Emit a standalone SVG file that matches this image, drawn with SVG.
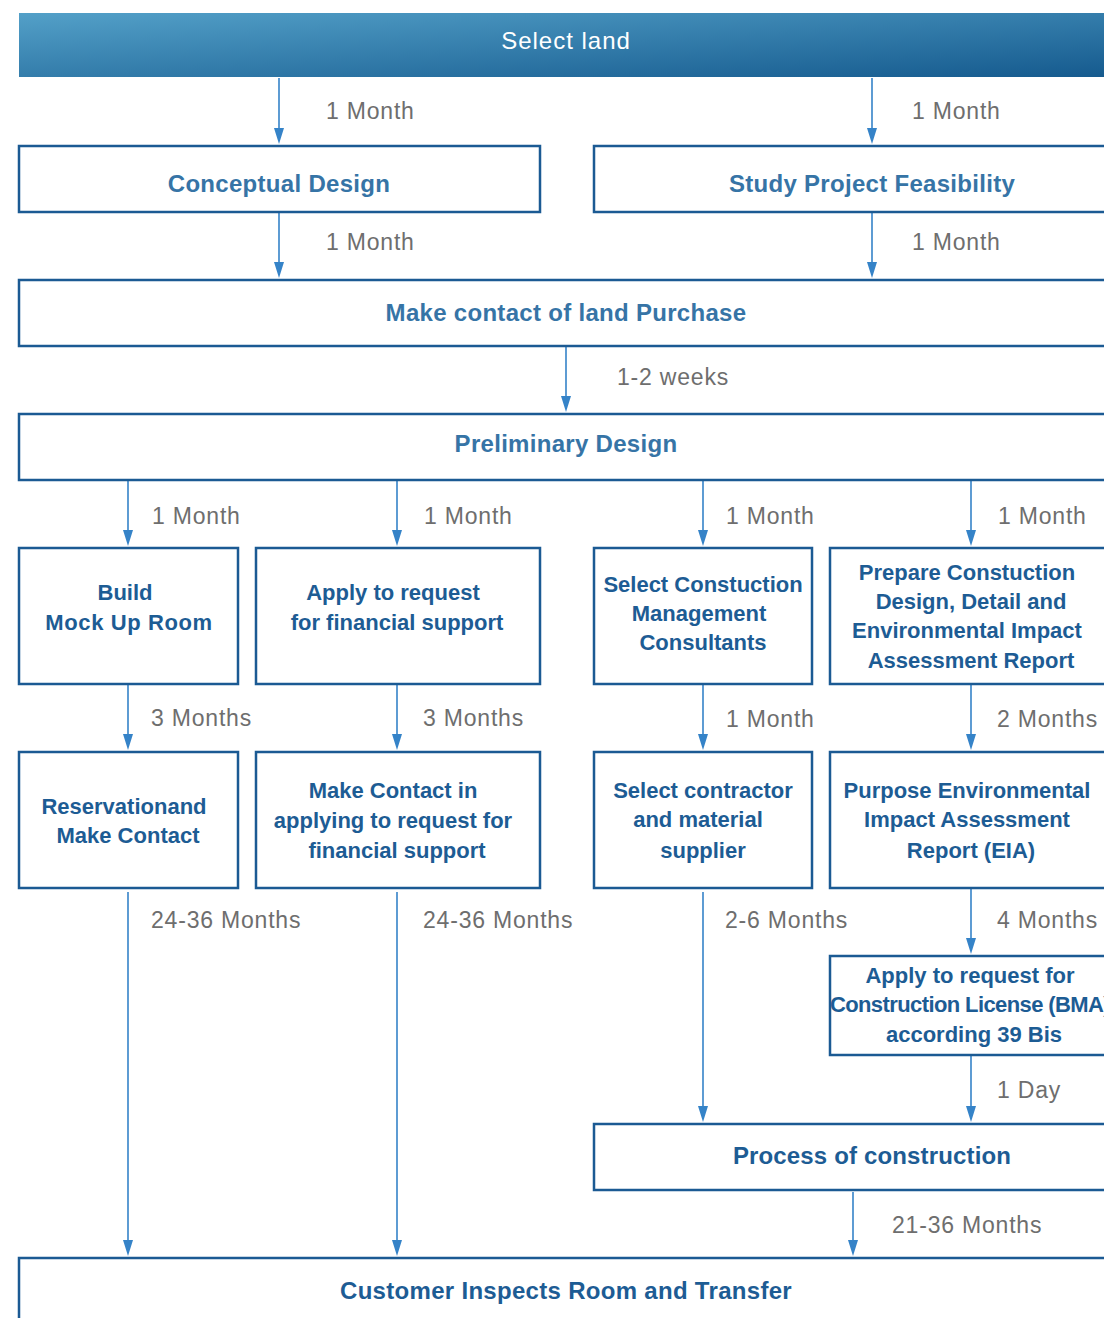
<svg xmlns="http://www.w3.org/2000/svg" width="1104" height="1318" viewBox="0 0 1104 1318">
  <defs>
    <linearGradient id="headGrad" x1="0" y1="0" x2="1" y2="1" gradientUnits="objectBoundingBox">
      <stop offset="0" stop-color="#53a0c8"/>
      <stop offset="1" stop-color="#155a8e"/>
    </linearGradient>
    <style>
      .box { fill: #ffffff; stroke: #1b5a93; stroke-width: 2.5; }
      .ttl { font-family: "Liberation Sans", Arial, sans-serif; font-weight: bold; font-size: 22px; fill: #1d5c94; text-anchor: middle; }
      .ttl2 { font-family: "Liberation Sans", Arial, sans-serif; font-weight: bold; font-size: 24px; fill: #3674a6; text-anchor: middle; letter-spacing: 0.3px; }
      .wide { font-size: 24px; letter-spacing: 0.2px; }
      .lbl { font-family: "Liberation Sans", Arial, sans-serif; font-size: 23px; fill: #6e6e6e; letter-spacing: 0.8px; }
      .con line { stroke: #3583c8; stroke-width: 1.6; }
      .head { font-family: "Liberation Sans", Arial, sans-serif; font-size: 24px; fill: #ffffff; text-anchor: middle; letter-spacing: 1px; }
    </style>
  </defs>

  <rect width="1104" height="1318" fill="#ffffff"/>

  <!-- connectors -->
  <g id="connectors" class="con">
    <line x1="279" y1="78" x2="279" y2="128"/>
    <line x1="872" y1="78" x2="872" y2="128"/>
    <line x1="279" y1="213" x2="279" y2="262"/>
    <line x1="872" y1="213" x2="872" y2="262"/>
    <line x1="566" y1="347" x2="566" y2="396"/>
    <line x1="128" y1="481" x2="128" y2="530"/>
    <line x1="397" y1="481" x2="397" y2="530"/>
    <line x1="703" y1="481" x2="703" y2="530"/>
    <line x1="971" y1="481" x2="971" y2="530"/>
    <line x1="128" y1="685" x2="128" y2="734"/>
    <line x1="397" y1="685" x2="397" y2="734"/>
    <line x1="703" y1="685" x2="703" y2="734"/>
    <line x1="971" y1="685" x2="971" y2="734"/>
    <line x1="128" y1="892" x2="128" y2="1240"/>
    <line x1="397" y1="892" x2="397" y2="1240"/>
    <line x1="703" y1="892" x2="703" y2="1106"/>
    <line x1="971" y1="889" x2="971" y2="938"/>
    <line x1="971" y1="1056" x2="971" y2="1106"/>
    <line x1="853" y1="1192" x2="853" y2="1240"/>
    <g fill="#3583c8">
      <path d="M274,128 L284,128 L279,144 Z"/>
      <path d="M867,128 L877,128 L872,144 Z"/>
      <path d="M274,262 L284,262 L279,278 Z"/>
      <path d="M867,262 L877,262 L872,278 Z"/>
      <path d="M561,396 L571,396 L566,412 Z"/>
      <path d="M123,530 L133,530 L128,546 Z"/>
      <path d="M392,530 L402,530 L397,546 Z"/>
      <path d="M698,530 L708,530 L703,546 Z"/>
      <path d="M966,530 L976,530 L971,546 Z"/>
      <path d="M123,734 L133,734 L128,750 Z"/>
      <path d="M392,734 L402,734 L397,750 Z"/>
      <path d="M698,734 L708,734 L703,750 Z"/>
      <path d="M966,734 L976,734 L971,750 Z"/>
      <path d="M123,1240 L133,1240 L128,1256 Z"/>
      <path d="M392,1240 L402,1240 L397,1256 Z"/>
      <path d="M698,1106 L708,1106 L703,1122 Z"/>
      <path d="M966,938 L976,938 L971,954 Z"/>
      <path d="M966,1106 L976,1106 L971,1122 Z"/>
      <path d="M848,1240 L858,1240 L853,1256 Z"/>
    </g>
  </g>

  <!-- connector labels -->
  <g id="labels">
    <text class="lbl" x="326" y="119">1 Month</text>
    <text class="lbl" x="912" y="119">1 Month</text>
    <text class="lbl" x="326" y="250">1 Month</text>
    <text class="lbl" x="912" y="250">1 Month</text>
    <text class="lbl" x="617" y="385">1-2 weeks</text>
    <text class="lbl" x="152" y="524">1 Month</text>
    <text class="lbl" x="424" y="524">1 Month</text>
    <text class="lbl" x="726" y="524">1 Month</text>
    <text class="lbl" x="998" y="524">1 Month</text>
    <text class="lbl" x="151" y="726">3 Months</text>
    <text class="lbl" x="423" y="726">3 Months</text>
    <text class="lbl" x="726" y="727">1 Month</text>
    <text class="lbl" x="997" y="727">2 Months</text>
    <text class="lbl" x="151" y="928">24-36 Months</text>
    <text class="lbl" x="423" y="928">24-36 Months</text>
    <text class="lbl" x="725" y="928">2-6 Months</text>
    <text class="lbl" x="997" y="928">4 Months</text>
    <text class="lbl" x="997" y="1098">1 Day</text>
    <text class="lbl" x="892" y="1233">21-36 Months</text>
  </g>

  <!-- nodes -->
  <g id="select-land">
    <rect x="19" y="13" width="1100" height="64" fill="url(#headGrad)"/>
    <text class="head" x="566" y="49">Select land</text>
  </g>

  <g id="conceptual-design">
    <rect class="box" x="19" y="146" width="521" height="66"/>
    <text class="ttl2" x="279" y="192">Conceptual Design</text>
  </g>

  <g id="study-feasibility">
    <rect class="box" x="594" y="146" width="520" height="66"/>
    <text class="ttl2" x="872" y="192">Study Project Feasibility</text>
  </g>

  <g id="land-purchase">
    <rect class="box" x="19" y="280" width="1095" height="66"/>
    <text class="ttl2" x="566" y="321">Make contact of land Purchase</text>
  </g>

  <g id="preliminary-design">
    <rect class="box" x="19" y="414" width="1095" height="66"/>
    <text class="ttl2" x="566" y="452">Preliminary Design</text>
  </g>

  <g id="mock-up-room">
    <rect class="box" x="19" y="548" width="219" height="136"/>
    <text class="ttl" x="125" y="600">Build</text>
    <text class="ttl" x="129" y="630" style="letter-spacing:0.6px">Mock Up Room</text>
  </g>

  <g id="financial-support">
    <rect class="box" x="256" y="548" width="284" height="136"/>
    <text class="ttl" x="393" y="600">Apply to request</text>
    <text class="ttl" x="397" y="630">for financial support</text>
  </g>

  <g id="cm-consultants">
    <rect class="box" x="594" y="548" width="218" height="136"/>
    <text class="ttl" x="703" y="592">Select Constuction</text>
    <text class="ttl" x="699" y="621">Management</text>
    <text class="ttl" x="703" y="650">Consultants</text>
  </g>

  <g id="construction-design">
    <rect class="box" x="830" y="548" width="284" height="136"/>
    <text class="ttl" x="967" y="580">Prepare Constuction</text>
    <text class="ttl" x="971" y="609">Design, Detail and</text>
    <text class="ttl" x="967" y="638">Environmental Impact</text>
    <text class="ttl" x="971" y="668">Assessment Report</text>
  </g>

  <g id="reservation">
    <rect class="box" x="19" y="752" width="219" height="136"/>
    <text class="ttl" x="124" y="814">Reservationand</text>
    <text class="ttl" x="128" y="843">Make Contact</text>
  </g>

  <g id="financial-contact">
    <rect class="box" x="256" y="752" width="284" height="136"/>
    <text class="ttl" x="393" y="798">Make Contact in</text>
    <text class="ttl" x="393" y="828">applying to request for</text>
    <text class="ttl" x="397" y="858">financial support</text>
  </g>

  <g id="contractor">
    <rect class="box" x="594" y="752" width="218" height="136"/>
    <text class="ttl" x="703" y="798">Select contractor</text>
    <text class="ttl" x="698" y="827">and material</text>
    <text class="ttl" x="703" y="858">supplier</text>
  </g>

  <g id="eia-report">
    <rect class="box" x="830" y="752" width="284" height="136"/>
    <text class="ttl" x="967" y="798">Purpose Environmental</text>
    <text class="ttl" x="967" y="827">Impact Assessment</text>
    <text class="ttl" x="971" y="858">Report (EIA)</text>
  </g>

  <g id="construction-license">
    <rect class="box" x="830" y="956" width="284" height="99"/>
    <text class="ttl" x="970" y="983">Apply to request for</text>
    <text class="ttl" x="970" y="1012" style="letter-spacing:-0.6px">Construction License (BMA)</text>
    <text class="ttl" x="974" y="1042">according 39 Bis</text>
  </g>

  <g id="construction-process">
    <rect class="box" x="594" y="1124" width="520" height="66"/>
    <text class="ttl wide" x="872" y="1164" style="letter-spacing:0.15px">Process of construction</text>
  </g>

  <g id="customer-inspection">
    <rect class="box" x="19" y="1258" width="1095" height="80"/>
    <text class="ttl wide" x="566" y="1299" style="letter-spacing:0.3px">Customer Inspects Room and Transfer</text>
  </g>
</svg>
